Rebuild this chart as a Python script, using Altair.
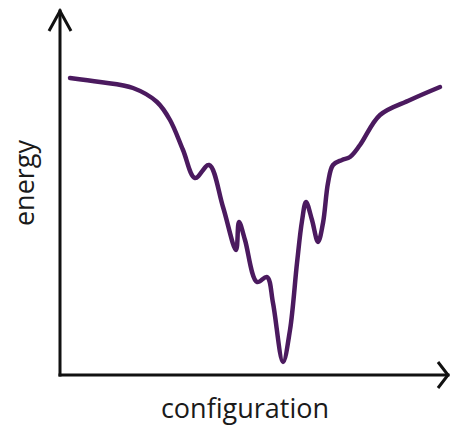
import altair as alt
import pandas as pd

# Energy landscape curve (configuration units, energy units)
config = [2.5, 10, 18.25, 24.25, 27.5, 30.75, 33.75, 37.25, 40.75, 44, 44.75,
          46.25, 49.25, 51.75, 53.25, 55.75, 57.5, 59.25, 60.5, 61.5, 63, 64.5,
          65.75, 67, 68.25, 70.5, 72.5, 75, 80, 87.5, 95]
energy = [74.25, 73.25, 71.75, 68.25, 63.75, 56.25, 49.25, 52.5, 42, 31.25, 38.25,
          33.75, 23.25, 24.5, 18, 3.25, 11.25, 28, 38.5, 43.25, 38.75, 33.25,
          38, 48, 52.5, 53.75, 54.5, 57.5, 65, 68.75, 72]

x_end = 97.0   # end of configuration axis
y_end = 91.0   # end of energy axis
x_title = "configuration"
y_title = "energy"

XD = [-13, 98.5]
YD = [-12.5, 91.75]

def X(f="x:Q"):
    return alt.X(f, scale=alt.Scale(domain=XD), axis=None)

def Y(f="y:Q"):
    return alt.Y(f, scale=alt.Scale(domain=YD), axis=None)

curve_df = pd.DataFrame({"x": config, "y": energy})
curve = alt.Chart(curve_df).mark_line(
    color="#4b1a5f", strokeWidth=4.5, interpolate="catmull-rom", strokeCap="round",
    strokeJoin="round"
).encode(x=X(), y=Y())

axes_df = pd.DataFrame({"x": [0, 0], "x2": [x_end, 0], "y": [0, 0], "y2": [0, y_end]})
axes = alt.Chart(axes_df).mark_rule(color="#111111", strokeWidth=3, strokeCap="square").encode(
    x=X(), x2="x2:Q", y=Y(), y2="y2:Q"
)

up_df = pd.DataFrame({"x": [0], "y": [y_end]})
up = alt.Chart(up_df).mark_point(
    shape="M-0.55,1 L0,0 L0.55,1", filled=False, stroke="#111111", strokeWidth=3,
    size=1600, opacity=1
).encode(x=X(), y=Y())

right_df = pd.DataFrame({"x": [x_end], "y": [0]})
right = alt.Chart(right_df).mark_point(
    shape="M-1,-1.3 L0,0 L-1,1.3", filled=False, stroke="#111111", strokeWidth=3,
    size=400, opacity=1
).encode(x=X(), y=Y())

xt_df = pd.DataFrame({"x": [46.25], "y": [-8.75], "t": [x_title]})
xt = alt.Chart(xt_df).mark_text(
    font="Open Sans", fontSize=27, color="#1a1a1a", baseline="middle", align="center"
).encode(x=X(), y=Y(), text="t:N")

yt_df = pd.DataFrame({"x": [-8.5], "y": [48], "t": [y_title]})
yt = alt.Chart(yt_df).mark_text(
    font="Open Sans", fontSize=27, color="#1a1a1a", baseline="middle", align="center", angle=270
).encode(x=X(), y=Y(), text="t:N")

chart = alt.layer(axes, up, right, curve, xt, yt).properties(
    width=446, height=417, autosize=alt.AutoSizeParams(type="none"), padding=0
).configure_view(stroke=None)

chart.save("out.html", embed_options={"renderer": "svg", "actions": False})
